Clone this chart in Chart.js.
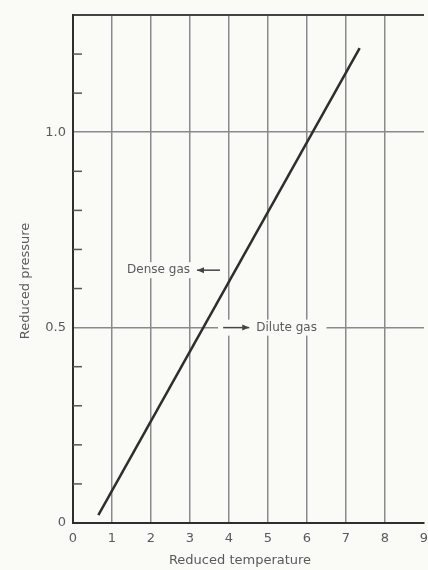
<!DOCTYPE html>
<html>
<head>
<meta charset="utf-8">
<script src="https://cdn.jsdelivr.net/npm/chart.js@4.4.1/dist/chart.umd.min.js"></script>
<style>
  html, body { margin: 0; padding: 0; background: #fafaf7; }
  #wrap { width: 428px; height: 570px; }
</style>
</head>
<body>
<div id="wrap"><canvas id="c" width="428" height="570"></canvas></div>
<script>
// Boundary between dense and dilute gas in reduced coordinates
const reducedTemperature = [0.65, 7.35];
const reducedPressure = [0.02, 1.215];

// Axis ranges and labelled ticks
const xTicks = [0, 1, 2, 3, 4, 5, 6, 7, 8, 9];
const yLabelled = { 0: '0', 5: '0.5', 10: '1.0' };
const yMinorStep = 0.1;
const yMax = 1.3;

// Region annotations: [x, y] in data units
const denseText = 'Dense gas';
const denseTextEnd = [3.0, 0.647];
const denseArrow = [[3.77, 0.647], [3.18, 0.647]];
const diluteText = 'Dilute gas';
const diluteArrow = [[3.85, 0.5], [4.52, 0.5]];
const diluteTextStart = [4.7, 0.5];
const diluteGap = [3.72, 6.5];

const BG = '#fafaf7';
const INK = '#2e2e2e';
const GRID = '#8a8a8a';
const TEXT = '#5a5a5a';
const FONT = '"DejaVu Sans", sans-serif';

function drawArrow(ctx, x1, y1, x2, y2) {
  ctx.beginPath();
  ctx.moveTo(x1, y1);
  ctx.lineTo(x2, y2);
  ctx.stroke();
  const dir = Math.sign(x2 - x1);
  ctx.beginPath();
  ctx.moveTo(x2, y2);
  ctx.lineTo(x2 - dir * 7, y2 - 3);
  ctx.lineTo(x2 - dir * 7, y2 + 3);
  ctx.closePath();
  ctx.fill();
}

const decorations = {
  id: 'decorations',
  beforeDatasetsDraw(chart) {
    const { ctx, chartArea, scales } = chart;
    const y = scales.y;
    // short inward minor ticks along the pressure axis
    ctx.save();
    ctx.strokeStyle = '#555';
    ctx.lineWidth = 1.5;
    for (let k = 1; k * yMinorStep < yMax - 1e-9; k++) {
      if (k % 5 === 0) continue;
      const py = y.getPixelForValue(k * yMinorStep);
      ctx.beginPath();
      ctx.moveTo(chartArea.left, py);
      ctx.lineTo(chartArea.left + 9, py);
      ctx.stroke();
    }
    ctx.restore();
  },
  afterDatasetsDraw(chart) {
    const { ctx, scales } = chart;
    const x = scales.x, y = scales.y;
    ctx.save();
    ctx.font = '12px ' + FONT;
    ctx.textBaseline = 'middle';

    // Dense gas label with left arrow
    const dW = ctx.measureText(denseText).width;
    const dx = x.getPixelForValue(denseTextEnd[0]);
    const dy = y.getPixelForValue(denseTextEnd[1]);
    ctx.fillStyle = BG;
    ctx.fillRect(dx - dW - 2, dy - 8, dW + 4, 16);
    ctx.fillStyle = TEXT;
    ctx.textAlign = 'right';
    ctx.fillText(denseText, dx, dy);
    ctx.strokeStyle = '#444';
    ctx.fillStyle = '#444';
    ctx.lineWidth = 1.5;
    drawArrow(ctx,
      x.getPixelForValue(denseArrow[0][0]), y.getPixelForValue(denseArrow[0][1]),
      x.getPixelForValue(denseArrow[1][0]), y.getPixelForValue(denseArrow[1][1]));

    // Dilute gas label breaking the 0.5 grid line
    const gy = y.getPixelForValue(diluteTextStart[1]);
    const g0 = x.getPixelForValue(diluteGap[0]);
    const g1 = x.getPixelForValue(diluteGap[1]);
    ctx.fillStyle = BG;
    ctx.fillRect(g0, gy - 8, g1 - g0, 16);
    ctx.fillStyle = '#444';
    drawArrow(ctx,
      x.getPixelForValue(diluteArrow[0][0]), y.getPixelForValue(diluteArrow[0][1]),
      x.getPixelForValue(diluteArrow[1][0]), y.getPixelForValue(diluteArrow[1][1]));
    ctx.fillStyle = TEXT;
    ctx.textAlign = 'left';
    ctx.fillText(diluteText, x.getPixelForValue(diluteTextStart[0]), gy);
    ctx.restore();
  },
  afterDraw(chart) {
    const { ctx } = chart;
    ctx.save();
    ctx.fillStyle = TEXT;
    ctx.font = '13px ' + FONT;
    ctx.textAlign = 'center';
    ctx.textBaseline = 'middle';
    ctx.fillText('Reduced temperature', 240, 561);
    ctx.translate(26, 281);
    ctx.rotate(-Math.PI / 2);
    ctx.fillText('Reduced pressure', 0, 0);
    ctx.restore();
  }
};

new Chart(document.getElementById('c'), {
  type: 'scatter',
  data: {
    datasets: [{
      data: reducedTemperature.map((t, i) => ({ x: t, y: reducedPressure[i] })),
      showLine: true,
      borderColor: INK,
      borderWidth: 2.5,
      pointRadius: 0,
      fill: false
    }]
  },
  options: {
    responsive: false,
    animation: false,
    layout: { padding: { top: 15, right: 4, left: 0, bottom: 0 } },
    plugins: { legend: { display: false }, tooltip: { enabled: false } },
    scales: {
      x: {
        type: 'linear',
        min: xTicks[0],
        max: xTicks[xTicks.length - 1],
        afterBuildTicks(scale) { scale.ticks = xTicks.map(v => ({ value: v })); },
        afterFit(scale) {
          scale.height = 47;
          scale.paddingLeft = 0;
          scale.paddingRight = 0;
        },
        border: { display: true, color: INK, width: 2 },
        grid: {
          drawTicks: false,
          color: c => (c.tick && c.tick.value > 0 && c.tick.value < 9) ? GRID : 'rgba(0,0,0,0)',
          lineWidth: 1.5
        },
        ticks: {
          padding: 8,
          color: TEXT,
          font: { family: FONT, size: 13 },
          callback: v => String(v)
        }
      },
      y: {
        type: 'linear',
        min: 0,
        max: yMax,
        afterFit(scale) {
          scale.width = 73;
          scale.paddingTop = 0;
          scale.paddingBottom = 0;
        },
        border: { display: true, color: INK, width: 2 },
        grid: {
          drawTicks: false,
          color: c => {
            if (!c.tick) return 'rgba(0,0,0,0)';
            const k = Math.round(c.tick.value * 10);
            if (k === 13) return '#444';
            return (k === 5 || k === 10) ? GRID : 'rgba(0,0,0,0)';
          },
          lineWidth: c => (c.tick && Math.round(c.tick.value * 10) === 13) ? 2 : 1.5
        },
        ticks: {
          stepSize: yMinorStep,
          autoSkip: false,
          padding: 7,
          color: TEXT,
          font: { family: FONT, size: 13 },
          callback: v => {
            const k = Math.round(v * 10);
            return yLabelled[k] !== undefined ? yLabelled[k] : '';
          }
        }
      }
    }
  },
  plugins: [decorations]
});
</script>
</body>
</html>
